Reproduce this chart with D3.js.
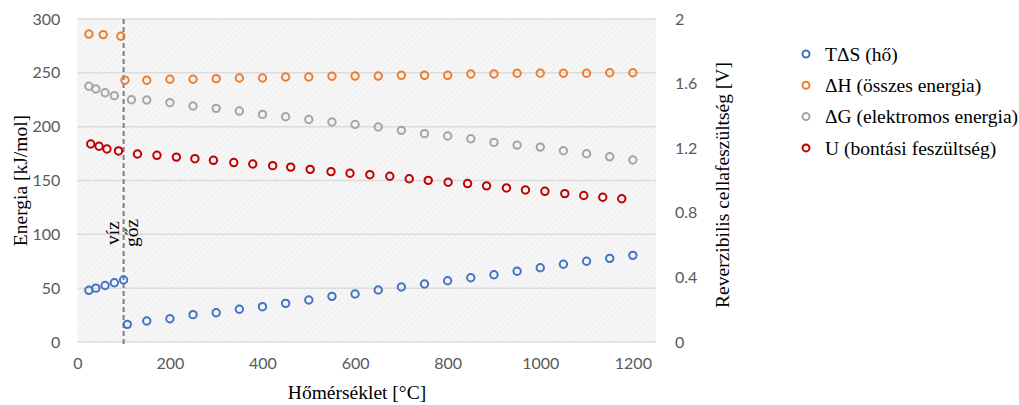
<!DOCTYPE html>
<html>
<head>
<meta charset="utf-8">
<script src="https://cdn.jsdelivr.net/npm/d3@7"></script>
<style>
  body { margin: 0; background: #fff; }
  .tick-label { font-family: Lato, 'Open Sans', sans-serif; font-size: 16px; fill: #595959; }
  .title { font-family: 'Liberation Serif', 'DejaVu Serif', serif; font-size: 19.5px; fill: #000; }
</style>
</head>
<body>
<div id="chart"></div>
<script>
// temperatures [°C] and values
const tdsTemp = [25, 40, 60, 80, 100, 108, 150, 200, 250, 300, 350, 400, 450, 500, 550, 600, 650, 700, 750, 800, 850, 900, 950, 1000, 1050, 1100, 1150, 1200];
const tdsValue = [48, 50, 52.5, 55, 57.6, 16.4, 19.5, 21.6, 25.4, 27.2, 30.4, 32.8, 35.9, 39, 42.4, 44.6, 48.3, 51.1, 53.9, 56.9, 59.7, 62.5, 65.7, 69, 72.2, 75, 77.7, 80.5];

const dhTemp = [25, 56, 94, 103, 150, 200, 250, 300, 350, 400, 450, 500, 550, 600, 650, 700, 750, 800, 850, 900, 950, 1000, 1050, 1100, 1150, 1200];
const dhValue = [286, 285.5, 284, 243.1, 243.1, 244, 244, 244.6, 245.2, 245.2, 246.1, 246.1, 246.8, 247, 247, 247.7, 247.7, 247.7, 248.9, 248.9, 249.6, 249.6, 249.6, 249.6, 250.1, 250.1];

const dgTemp = [25, 40, 60, 80, 117, 150, 200, 250, 300, 350, 400, 450, 500, 550, 600, 650, 700, 750, 800, 850, 900, 950, 1000, 1050, 1100, 1150, 1200];
const dgValue = [237.5, 235, 231.5, 228.8, 225, 224.8, 222.3, 219.2, 217, 214.5, 211.4, 209.2, 206.7, 204.3, 202, 199.7, 196.6, 193.5, 191.3, 188.8, 185.4, 182.9, 181, 177.6, 174.8, 172, 169];

const uTemp = [29, 47, 64, 89, 130, 172, 214, 254, 294, 338, 379, 422, 461, 503, 548, 589, 632, 675, 717, 758, 801, 843, 884, 927, 968, 1010, 1053, 1094, 1135, 1176];
const uVolt = [1.226, 1.212, 1.195, 1.183, 1.164, 1.156, 1.145, 1.135, 1.125, 1.111, 1.102, 1.092, 1.083, 1.069, 1.055, 1.045, 1.036, 1.026, 1.011, 1.001, 0.989, 0.981, 0.967, 0.954, 0.941, 0.933, 0.919, 0.907, 0.896, 0.887];

const seriesNames = ['T\u0394S (hő)', '\u0394H (összes energia)', '\u0394G (elektromos energia)', 'U (bontási feszültség)'];
const seriesColors = ['#4472c4', '#ed7d31', '#a5a5a5', '#c00000'];

const xTicks = [0, 200, 400, 600, 800, 1000, 1200];
const leftTicks = [0, 50, 100, 150, 200, 250, 300];
const rightTicks = [0, 0.4, 0.8, 1.2, 1.6, 2];
const phaseTemp = 100;

const width = 1019;
const height = 405;
const plot = { left: 77.3, right: 656, top: 19, bottom: 342 };

const svg = d3.select('#chart')
  .append('svg')
  .attr('width', width)
  .attr('height', height);

const x = d3.scaleLinear().domain([0, 1250]).range([plot.left, plot.right]);
const yLeft = d3.scaleLinear().domain([0, 300]).range([plot.bottom, plot.top]);
const yRight = d3.scaleLinear().domain([0, 2]).range([plot.bottom, plot.top]);

// hatched plot background
const pattern = svg.append('defs')
  .append('pattern')
  .attr('id', 'hatch')
  .attr('patternUnits', 'userSpaceOnUse')
  .attr('width', 4)
  .attr('height', 4)
  .attr('patternTransform', 'rotate(45)');
pattern.append('rect').attr('width', 4).attr('height', 4).attr('fill', '#f6f6f6');
pattern.append('line')
  .attr('x1', 0).attr('y1', 0).attr('x2', 0).attr('y2', 4)
  .attr('stroke', '#e9e9e9').attr('stroke-width', 1.2);

svg.append('rect')
  .attr('x', plot.left)
  .attr('y', plot.top)
  .attr('width', plot.right - plot.left)
  .attr('height', plot.bottom - plot.top)
  .attr('fill', 'url(#hatch)');

// gridlines
svg.append('g')
  .selectAll('line')
  .data(leftTicks)
  .join('line')
  .attr('x1', plot.left)
  .attr('x2', plot.right)
  .attr('y1', d => yLeft(d))
  .attr('y2', d => yLeft(d))
  .attr('stroke', '#dcdcdc')
  .attr('stroke-width', 1.5);

// axes (labels only, like the Excel original)
const leftAxis = svg.append('g')
  .attr('transform', `translate(${plot.left},0)`)
  .call(d3.axisLeft(yLeft).tickValues(leftTicks).tickSize(0).tickPadding(17));
const rightAxis = svg.append('g')
  .attr('transform', `translate(${plot.right},0)`)
  .call(d3.axisRight(yRight).tickValues(rightTicks).tickSize(0).tickPadding(19).tickFormat(d3.format('')));
const bottomAxis = svg.append('g')
  .attr('transform', `translate(0,${plot.bottom})`)
  .call(d3.axisBottom(x).tickValues(xTicks).tickSize(0).tickPadding(16).tickFormat(d3.format('')));

[leftAxis, rightAxis, bottomAxis].forEach(axis => {
  axis.select('.domain').remove();
  axis.selectAll('text').attr('class', 'tick-label').attr('fill', null).attr('font-family', null).attr('font-size', null);
});

// water / steam boundary
svg.append('line')
  .attr('x1', x(phaseTemp))
  .attr('x2', x(phaseTemp))
  .attr('y1', plot.top)
  .attr('y2', plot.bottom + 4)
  .attr('stroke', '#7f7f7f')
  .attr('stroke-width', 2)
  .attr('stroke-dasharray', '5,3');

// both labels read upwards, one on each side of the line
svg.selectAll('.phase')
  .data([{ text: 'víz', dx: -5 }, { text: 'gőz', dx: 14 }])
  .join('text')
  .attr('class', 'title phase')
  .attr('font-size', 16)
  .attr('transform', d => `translate(${x(phaseTemp) + d.dx},233) rotate(-90)`)
  .attr('text-anchor', 'middle')
  .text(d => d.text);

// markers
const series = [
  { temp: tdsTemp, values: tdsValue, y: yLeft },
  { temp: dhTemp, values: dhValue, y: yLeft },
  { temp: dgTemp, values: dgValue, y: yLeft },
  { temp: uTemp, values: uVolt, y: yRight },
];

series.forEach((s, i) => {
  svg.append('g')
    .selectAll('circle')
    .data(s.temp.map((t, j) => ({ t, v: s.values[j] })))
    .join('circle')
    .attr('cx', d => x(d.t))
    .attr('cy', d => s.y(d.v))
    .attr('r', 3.7)
    .attr('fill', 'none')
    .attr('stroke', seriesColors[i])
    .attr('stroke-width', 2);
});

// axis titles
svg.append('text')
  .attr('class', 'title')
  .attr('transform', `translate(27,${(plot.top + plot.bottom) / 2}) rotate(-90)`)
  .attr('text-anchor', 'middle')
  .text('Energia [kJ/mol]');
svg.append('text')
  .attr('class', 'title')
  .attr('transform', `translate(729,185) rotate(-90)`)
  .attr('text-anchor', 'middle')
  .text('Reverzibilis cellafeszültség [V]');
svg.append('text')
  .attr('class', 'title')
  .attr('x', 357)
  .attr('y', 399)
  .attr('text-anchor', 'middle')
  .text('Hőmérséklet [°C]');

// legend
const legend = svg.append('g')
  .selectAll('g')
  .data(seriesNames)
  .join('g')
  .attr('transform', (d, i) => `translate(806,${54 + i * 31.3})`);
legend.append('circle')
  .attr('r', 3.5)
  .attr('fill', 'none')
  .attr('stroke', (d, i) => seriesColors[i])
  .attr('stroke-width', 2);
legend.append('text')
  .attr('class', 'title')
  .attr('font-size', 20)
  .attr('x', 19)
  .attr('dy', '0.35em')
  .text(d => d);
</script>
</body>
</html>
